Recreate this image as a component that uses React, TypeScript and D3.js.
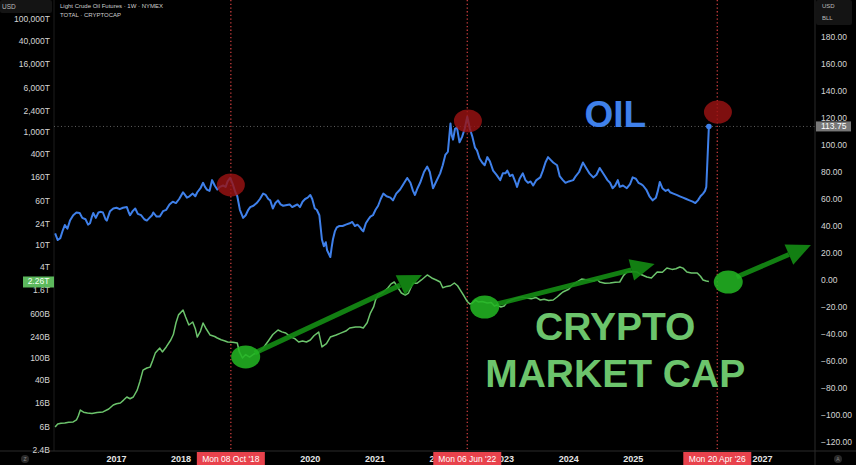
import React from 'react';
import * as d3 from 'd3';

const W = 856;
const H = 465;

// WTI crude oil weekly (USD / bbl) — [decimal year, price]
const oilSeries: [number, number][] = [
  [2016.05, 34.6], [2016.09, 29.6], [2016.13, 31], [2016.17, 37], [2016.2, 40.7], [2016.24, 38],
  [2016.28, 44], [2016.33, 48], [2016.38, 50], [2016.43, 49.6], [2016.47, 46], [2016.52, 45],
  [2016.56, 41], [2016.59, 42], [2016.62, 47], [2016.64, 49.6], [2016.68, 46], [2016.72, 50],
  [2016.76, 50.5], [2016.79, 50], [2016.83, 45], [2016.85, 44], [2016.9, 51], [2016.95, 53],
  [2017.0, 53.5], [2017.05, 52.5], [2017.1, 53.5], [2017.16, 54], [2017.19, 50], [2017.21, 48],
  [2017.25, 51], [2017.29, 53], [2017.33, 49], [2017.38, 48], [2017.43, 45], [2017.47, 44],
  [2017.51, 46], [2017.55, 48], [2017.57, 50], [2017.62, 47], [2017.67, 47], [2017.72, 51],
  [2017.77, 52], [2017.82, 56], [2017.87, 58], [2017.92, 57], [2017.97, 60], [2018.03, 65],
  [2018.06, 63], [2018.09, 61], [2018.13, 62], [2018.18, 64], [2018.22, 62], [2018.25, 65],
  [2018.3, 68], [2018.34, 72], [2018.37, 69], [2018.4, 67], [2018.44, 66], [2018.48, 74],
  [2018.52, 70], [2018.56, 67], [2018.6, 69], [2018.65, 70], [2018.69, 69], [2018.72, 73],
  [2018.76, 75.6], [2018.8, 71], [2018.84, 65], [2018.87, 62], [2018.91, 52], [2018.96, 46],
  [2019.0, 48], [2019.04, 52], [2019.07, 54], [2019.12, 55], [2019.17, 57], [2019.22, 60],
  [2019.27, 64], [2019.31, 63], [2019.35, 60], [2019.38, 59], [2019.42, 53], [2019.46, 57],
  [2019.5, 59], [2019.54, 56], [2019.58, 55], [2019.64, 55.6], [2019.68, 56], [2019.72, 54],
  [2019.76, 55], [2019.8, 56], [2019.84, 54], [2019.88, 58], [2019.92, 60], [2019.96, 61],
  [2020.0, 63], [2020.03, 60], [2020.07, 53], [2020.1, 52], [2020.14, 48], [2020.18, 30],
  [2020.21, 25], [2020.24, 28], [2020.26, 22], [2020.31, 17], [2020.33, 24], [2020.35, 30],
  [2020.38, 36], [2020.41, 39], [2020.45, 40], [2020.5, 40], [2020.55, 41], [2020.61, 42],
  [2020.65, 43], [2020.69, 40], [2020.73, 41], [2020.77, 39], [2020.8, 37], [2020.82, 36],
  [2020.86, 42], [2020.9, 45], [2020.93, 47], [2020.97, 48], [2021.01, 52], [2021.05, 55],
  [2021.09, 60], [2021.13, 64], [2021.18, 62], [2021.24, 61], [2021.28, 59], [2021.33, 64],
  [2021.39, 67], [2021.44, 71], [2021.5, 75.6], [2021.55, 72], [2021.59, 66], [2021.62, 63],
  [2021.66, 68], [2021.7, 72], [2021.76, 80], [2021.81, 84], [2021.85, 80], [2021.9, 68],
  [2021.94, 72], [2022.01, 79], [2022.05, 85], [2022.09, 92.6], [2022.13, 95], [2022.17, 116],
  [2022.19, 107], [2022.21, 104], [2022.24, 112], [2022.27, 113], [2022.31, 102], [2022.35, 106],
  [2022.39, 112], [2022.43, 121], [2022.47, 112], [2022.51, 106], [2022.55, 98], [2022.58, 96],
  [2022.62, 90], [2022.66, 87], [2022.7, 85], [2022.74, 91], [2022.78, 88], [2022.83, 81],
  [2022.88, 78], [2022.94, 74], [2022.98, 79], [2023.02, 79], [2023.05, 81], [2023.09, 77],
  [2023.13, 78], [2023.18, 72], [2023.2, 69], [2023.24, 75], [2023.29, 79], [2023.33, 74],
  [2023.37, 72], [2023.41, 73], [2023.45, 70], [2023.5, 74], [2023.56, 76], [2023.6, 81],
  [2023.64, 87], [2023.68, 91], [2023.72, 89], [2023.76, 87], [2023.82, 85], [2023.86, 77],
  [2023.91, 74], [2023.95, 72], [2024.0, 73], [2024.07, 74], [2024.11, 77], [2024.16, 80],
  [2024.22, 87], [2024.27, 83], [2024.32, 79], [2024.38, 76], [2024.43, 78], [2024.48, 83],
  [2024.52, 80], [2024.56, 77], [2024.6, 74], [2024.64, 72], [2024.68, 68], [2024.72, 70],
  [2024.76, 74], [2024.79, 69], [2024.84, 70], [2024.9, 68], [2024.95, 71], [2024.99, 76],
  [2025.04, 75], [2025.08, 72], [2025.12, 71], [2025.15, 70], [2025.2, 67], [2025.25, 62],
  [2025.3, 59], [2025.35, 61], [2025.38, 66], [2025.41, 72.6], [2025.45, 68], [2025.5, 66],
  [2025.54, 67], [2025.57, 65], [2025.62, 64], [2025.67, 63], [2025.72, 62], [2025.77, 61],
  [2025.82, 60], [2025.87, 59], [2025.92, 58], [2025.96, 57], [2026.0, 59], [2026.04, 62],
  [2026.08, 64], [2026.11, 66], [2026.13, 69], [2026.17, 113.75],
];

// TOTAL crypto market cap (billions USD) — [decimal year, value]
const cryptoSeries: [number, number][] = [
  [2016.05, 6.0], [2016.09, 6.8], [2016.14, 7.0], [2016.2, 7.1], [2016.26, 7.3], [2016.33, 7.4],
  [2016.38, 8.0], [2016.41, 9.5], [2016.44, 12.0], [2016.49, 11.0], [2016.55, 10.6], [2016.62, 10.4],
  [2016.7, 10.8], [2016.79, 11.1], [2016.88, 12.5], [2016.95, 14.7], [2017.0, 15.5], [2017.06, 16.0],
  [2017.11, 18.0], [2017.16, 20.4], [2017.21, 19.0], [2017.26, 20.4], [2017.32, 27], [2017.36, 37.6],
  [2017.41, 61], [2017.47, 66.5], [2017.52, 69], [2017.56, 90], [2017.6, 122], [2017.67, 150],
  [2017.71, 128], [2017.77, 157], [2017.84, 208], [2017.88, 260], [2017.92, 416], [2017.96, 580],
  [2018.03, 708], [2018.07, 532], [2018.12, 384], [2018.18, 434], [2018.22, 330], [2018.25, 235],
  [2018.3, 300], [2018.34, 416], [2018.38, 340], [2018.45, 255], [2018.52, 240], [2018.56, 226],
  [2018.62, 210], [2018.68, 200], [2018.72, 192], [2018.8, 190], [2018.87, 184], [2018.9, 130],
  [2018.95, 100], [2019.0, 115], [2019.06, 104], [2019.13, 118], [2019.2, 128], [2019.27, 150],
  [2019.35, 200], [2019.42, 260], [2019.5, 313], [2019.56, 290], [2019.62, 277], [2019.7, 235],
  [2019.76, 220], [2019.82, 192], [2019.88, 200], [2019.94, 192], [2020.0, 208], [2020.06, 250],
  [2020.13, 288], [2020.18, 157], [2020.25, 180], [2020.31, 235], [2020.4, 255], [2020.47, 275],
  [2020.55, 300], [2020.61, 340], [2020.7, 354], [2020.77, 354], [2020.82, 340], [2020.88, 420],
  [2020.93, 625], [2020.98, 800], [2021.01, 1064], [2021.05, 1300], [2021.13, 1473], [2021.2, 1733],
  [2021.25, 2050], [2021.3, 2214], [2021.35, 1806], [2021.41, 1413], [2021.47, 1300], [2021.52, 1413],
  [2021.59, 2125], [2021.65, 2100], [2021.72, 2404], [2021.81, 2947], [2021.88, 2606], [2021.95, 2400],
  [2022.01, 2214], [2022.05, 1750], [2022.11, 1850], [2022.17, 1900], [2022.23, 2125], [2022.28, 1900],
  [2022.32, 1600], [2022.38, 1250], [2022.43, 1000], [2022.47, 900], [2022.51, 940], [2022.56, 1060],
  [2022.6, 980], [2022.66, 1000], [2022.74, 940], [2022.8, 960], [2022.85, 830], [2022.89, 867],
  [2022.95, 800], [2023.0, 830], [2023.05, 980], [2023.1, 1050], [2023.15, 1100], [2023.2, 1153],
  [2023.27, 1200], [2023.35, 1153], [2023.42, 1120], [2023.49, 1180], [2023.56, 1064], [2023.62, 1100],
  [2023.69, 1040], [2023.76, 1064], [2023.82, 1200], [2023.87, 1350], [2023.91, 1473], [2024.0, 1650],
  [2024.07, 2000], [2024.13, 2214], [2024.2, 2500], [2024.29, 2404], [2024.38, 2300], [2024.44, 2450],
  [2024.48, 2214], [2024.56, 2100], [2024.64, 2125], [2024.72, 2200], [2024.79, 2214], [2024.85, 2900],
  [2024.9, 3327], [2024.97, 3400], [2025.06, 3327], [2025.12, 3000], [2025.21, 2717], [2025.28, 2600],
  [2025.37, 3327], [2025.45, 3300], [2025.52, 3917], [2025.6, 3700], [2025.66, 3800], [2025.72, 4083],
  [2025.77, 3900], [2025.83, 3327], [2025.9, 3200], [2025.99, 3190], [2026.04, 2800], [2026.08, 2404],
  [2026.13, 2300], [2026.17, 2260],
];

// Left (log) axis ticks, in billions USD
const leftTickValues = [1e8, 4e7, 1.6e7, 6e6, 2.4e6, 1e6, 4e5, 1.6e5, 6e4, 2.4e4, 1e4, 4e3, 1.6e3, 600, 240, 100, 40, 16, 6, 2.4];
const leftTickLabels = ['100,000T', '40,000T', '16,000T', '6,000T', '2,400T', '1,000T', '400T', '160T', '60T', '24T', '10T', '4T', '1.6T', '600B', '240B', '100B', '40B', '16B', '6B', '2.4B'];

// Right (linear) axis ticks
const rightTickValues = [180, 160, 140, 120, 100, 80, 60, 40, 20, 0, -20, -40, -60, -80, -100, -120];

// Bottom axis
const yearTicks = [2017, 2018, 2020, 2021, 2022, 2023, 2024, 2025, 2027];
const markerDates = [2018.77, 2022.43, 2026.3];
const markerLabels = ["Mon 08 Oct '18", "Mon 06 Jun '22", "Mon 20 Apr '26"];

// Annotations (x: year, y: right-axis units)
const redCircles: [number, number][] = [[2018.77, 70.4], [2022.44, 117.8], [2026.31, 124.4]];
const greenCircles: [number, number][] = [[2019.0, -57], [2022.7, -20], [2026.47, -1.5]];
const arrows: [number, number, number, number][] = [
  [2019.14, -54, 2021.73, 3.7],
  [2022.89, -17.8, 2025.33, 11.9],
  [2026.6, 2.2, 2027.75, 25.9],
];

const lastOil = 113.75;
const lastCrypto = '2.26T';

const FONT = "'Liberation Sans', Arial, sans-serif";

export default function App() {
  const plotL = 54;
  const plotR = 815;
  const plotB = 451;

  const x = d3.scaleLinear().domain([2017, 2027]).range([116.5, 762.5]);
  const yOil = d3.scaleLinear().domain([0, 100]).range([280, 145]);
  const yCap = d3.scaleLog().domain([1e4, 1e6]).range([245, 132]);

  const oilLine = d3.line<[number, number]>().x((d) => x(d[0])).y((d) => yOil(d[1]));
  const capLine = d3.line<[number, number]>().x((d) => x(d[0])).y((d) => yCap(d[1]));

  const oilLast = oilSeries[oilSeries.length - 1];
  const axisColor = '#d6d6d6';

  const arrowShapes = arrows.map(([x0, y0, x1, y1]) => {
    const ax = x(x0), ay = yOil(y0), bx = x(x1), by = yOil(y1);
    const ang = Math.atan2(by - ay, bx - ax);
    const headLen = 24, headW = 11;
    const cx = bx - headLen * Math.cos(ang), cy = by - headLen * Math.sin(ang);
    const px = -Math.sin(ang), py = Math.cos(ang);
    const head = `${bx},${by} ${cx + px * headW},${cy + py * headW} ${cx - px * headW},${cy - py * headW}`;
    return { ax, ay, cx, cy, head };
  });

  return (
    <svg
      width={W}
      height={H}
      style={{ position: 'absolute', left: 0, top: 0, background: '#000', fontFamily: FONT }}
    >
      <rect x={0} y={0} width={W} height={H} fill="#000" />
      <defs>
        <clipPath id="plot">
          <rect x={plotL} y={0} width={plotR - plotL} height={plotB} />
        </clipPath>
        <clipPath id="yr2022">
          <rect x={0} y={452} width={x(markerDates[1]) - 33.5} height={13} />
        </clipPath>
        <clipPath id="yr2023">
          <rect x={x(markerDates[1]) + 33.5} y={452} width={200} height={13} />
        </clipPath>
      </defs>

      {/* axis borders */}
      <line x1={plotL} x2={plotL} y1={0} y2={plotB} stroke="#1c1c1c" />
      <line x1={plotR} x2={plotR} y1={0} y2={H} stroke="#2a2a2a" />
      <line x1={0} x2={W} y1={plotB} y2={plotB} stroke="#2a2a2a" />

      {/* last price horizontal dotted line */}
      <line
        x1={plotL}
        x2={plotR}
        y1={yOil(lastOil)}
        y2={yOil(lastOil)}
        stroke="#777"
        strokeWidth={0.8}
        strokeDasharray="1,2.5"
      />

      {/* vertical markers */}
      {markerDates.map((d, i) => (
        <line
          key={'v' + i}
          x1={x(d)}
          x2={x(d)}
          y1={0}
          y2={plotB}
          stroke="#c83c3c"
          strokeWidth={1.3}
          strokeDasharray="1.3,2.4"
        />
      ))}

      <g clipPath="url(#plot)">
        <path d={capLine(cryptoSeries) || ''} fill="none" stroke="#6cc46c" strokeWidth={1.5} strokeLinejoin="round" />
        <path d={oilLine(oilSeries) || ''} fill="none" stroke="#3f80ea" strokeWidth={2} strokeLinejoin="round" />
        <circle cx={x(oilLast[0])} cy={yOil(oilLast[1])} r={2.8} fill="#3f80ea" />

        {arrowShapes.map((a, i) => (
          <g key={'a' + i} opacity={0.92}>
            <line x1={a.ax} y1={a.ay} x2={a.cx} y2={a.cy} stroke="#148a14" strokeWidth={5} />
            <polygon points={a.head} fill="#148a14" />
          </g>
        ))}

        {redCircles.map(([cx, cy], i) => (
          <ellipse key={'r' + i} cx={x(cx)} cy={yOil(cy)} rx={14} ry={11.5} fill="#9a1212" opacity={0.82} />
        ))}
        {greenCircles.map(([cx, cy], i) => (
          <ellipse key={'g' + i} cx={x(cx)} cy={yOil(cy)} rx={14.5} ry={11.5} fill="#22b422" opacity={0.88} />
        ))}
      </g>

      {/* big labels */}
      <text x={x(2024.72)} y={yOil(113.3)} textAnchor="middle" fontSize={37} fontWeight="bold" fill="#3f80ea">
        OIL
      </text>
      <text x={x(2024.72)} y={yOil(-44.5)} textAnchor="middle" fontSize={39} fontWeight="bold" fill="#6cc46c">
        CRYPTO
      </text>
      <text x={x(2024.72)} y={yOil(-79.5)} textAnchor="middle" fontSize={39} fontWeight="bold" fill="#6cc46c">
        MARKET CAP
      </text>

      {/* header */}
      <rect x={0} y={0} width={52} height={13} rx={2} fill="#141414" />
      <text x={2} y={8.5} fontSize={6.5} fill="#bbb">USD</text>
      <text x={60} y={8} fontSize={6} fill="#cfcfcf">Light Crude Oil Futures · 1W · NYMEX</text>
      <text x={60} y={16.5} fontSize={6} fill="#cfcfcf">TOTAL · CRYPTOCAP</text>

      {/* left axis */}
      {leftTickValues.map((v, i) => (
        <text key={'l' + i} x={50} y={yCap(v) + 3} textAnchor="end" fontSize={8.5} fill={axisColor}>
          {leftTickLabels[i]}
        </text>
      ))}
      <rect x={23} y={yCap(2260) - 5} width={31} height={11} fill="#5cb85c" />
      <text x={38.5} y={yCap(2260) + 3} textAnchor="middle" fontSize={8.5} fill="#f2fff2">
        {lastCrypto}
      </text>

      {/* right axis */}
      <rect x={816} y={0} width={36} height={25} rx={2} fill="#141414" />
      <text x={822} y={8} fontSize={6} fill="#bbb">USD</text>
      <text x={822} y={20} fontSize={6} fill="#bbb">BLL</text>
      {rightTickValues.map((v) => (
        <text key={'r' + v} x={821} y={yOil(v) + 3} fontSize={8.5} fill={axisColor}>
          {(v < 0 ? '\u2212' : '') + Math.abs(v).toFixed(2)}
        </text>
      ))}
      <rect x={816} y={yOil(lastOil) - 5} width={35} height={10} fill="#777" />
      <text x={821} y={yOil(lastOil) + 3} fontSize={8.5} fill="#fff">
        {lastOil.toFixed(2)}
      </text>

      {/* bottom axis */}
      {yearTicks.map((yr) => (
        <text
          key={'y' + yr}
          x={x(yr)}
          y={462}
          textAnchor="middle"
          fontSize={9}
          fontWeight="bold"
          fill="#e6e6e6"
          clipPath={yr === 2022 ? 'url(#yr2022)' : yr === 2023 ? 'url(#yr2023)' : undefined}
        >
          {yr}
        </text>
      ))}
      {markerDates.map((d, i) => (
        <g key={'m' + i}>
          <rect x={x(d) - 34} y={452} width={68} height={13} fill="#e8424c" />
          <text x={x(d)} y={462} textAnchor="middle" fontSize={8.5} fill="#fff">
            {markerLabels[i]}
          </text>
        </g>
      ))}
      <circle cx={25} cy={459} r={4} fill="#2a2a2a" />
      <text x={25} y={461} textAnchor="middle" fontSize={5} fill="#888">Z</text>
      <circle cx={838} cy={459} r={4} fill="#2a2a2a" />
      <text x={838} y={461} textAnchor="middle" fontSize={5} fill="#888">A</text>
    </svg>
  );
}
